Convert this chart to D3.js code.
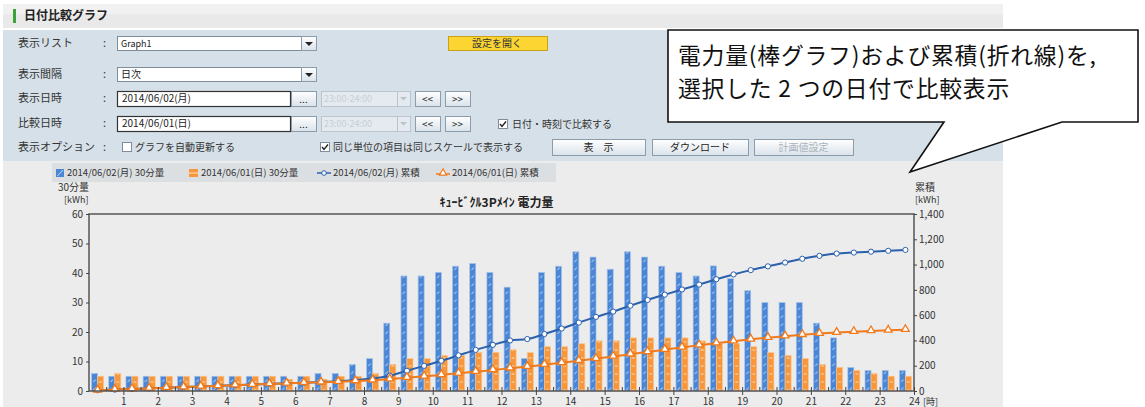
<!DOCTYPE html>
<html>
<head>
<meta charset="utf-8">
<script src="https://cdn.jsdelivr.net/npm/d3@7"></script>
<style>
body { margin: 0; background: #fff; }
svg text { font-family: "Noto Sans CJK JP", "Noto Sans", sans-serif; }
</style>
</head>
<body>
<svg id="chart" width="1145" height="407"></svg>
<script>
// half-hour slots (categories)
var slots = ["0:00","0:30","1:00","1:30","2:00","2:30","3:00","3:30","4:00","4:30","5:00","5:30",
    "6:00","6:30","7:00","7:30","8:00","8:30","9:00","9:30","10:00","10:30","11:00","11:30",
    "12:00","12:30","13:00","13:30","14:00","14:30","15:00","15:30","16:00","16:30","17:00","17:30",
    "18:00","18:30","19:00","19:30","20:00","20:30","21:00","21:30","22:00","22:30","23:00","23:30"];
var hourTicks = [1,2,3,4,5,6,7,8,9,10,11,12,13,14,15,16,17,18,19,20,21,22,23,24];
var leftTicks = [0,10,20,30,40,50,60];
var rightTicks = [0,200,400,600,800,1000,1200,1400];

var seriesNames = ["2014/06/02(月) 30分量", "2014/06/01(日) 30分量", "2014/06/02(月) 累積", "2014/06/01(日) 累積"];

// 30 minute amounts [kWh]
var mon30 = [6,5,5,5,5,5,5,5,5,5,5,5,5,6,6,9,11,23,39,39,40.2,42.3,43.2,40.2,
    35.2,11,40.2,42.3,47.2,45.4,41.3,47.2,45.4,42.3,40.2,39,42.4,38.1,34,30,30,30,23,18,8,7,7,7];
var sun30 = [5,6,5,5,5,5,5,5,5,5,5,4,5,4,5,5,6,9,11,11,12,12,13,13,
    14,13,15,15,16,17,17,18,18,18,18,17,16,16,15,13,12,11,9,8,7,6,5,5];

// cumulative [kWh]
var monTotal = [6,11,16,21,26,31,36,41,46,51,56,61,66,72,78,87,98,121,160,199,239,282,325,365,
    400,411,451,494,541,586,628,675,720,762,803,842,884,922,956,986,1016,1046,1069,1087,1095,1102,1109,1116];
var sunTotal = [5,11,16,21,26,31,36,41,46,51,56,60,65,69,74,79,85,94,105,116,128,140,153,166,
    180,193,208,223,239,256,273,291,309,327,345,362,378,394,409,422,434,445,454,462,469,475,480,485];

var svg = d3.select("#chart");

var blue = "#4a86d6", blueLine = "#2b60ac", orange = "#f7963a", orangeLine = "#f07a1c";

var defs = svg.append("defs");
var plotL = 89, plotR = 914, plotT = 214, plotB = 391;
var step = (plotR - plotL) / slots.length;

var pb = defs.append("pattern").attr("id", "hatchBlue").attr("patternUnits", "userSpaceOnUse")
    .attr("x", plotL).attr("y", 0).attr("width", step).attr("height", 8);
pb.append("rect").attr("width", step).attr("height", 8).attr("fill", blue);
pb.append("line").attr("x1", 4.4).attr("y1", 6).attr("x2", 6.6).attr("y2", 3.5)
    .attr("stroke", "#b8d0f0").attr("stroke-width", 1);

var po = defs.append("pattern").attr("id", "hatchOrange").attr("patternUnits", "userSpaceOnUse")
    .attr("x", plotL).attr("y", 2).attr("width", step).attr("height", 8);
po.append("rect").attr("width", step).attr("height", 8).attr("fill", orange);
po.append("line").attr("x1", 10.2).attr("y1", 4).attr("x2", 13).attr("y2", 4)
    .attr("stroke", "#fde2c4").attr("stroke-width", 1);

// ---------- page frame ----------
svg.append("rect").attr("x", 3).attr("y", 4).attr("width", 1000).attr("height", 24).attr("fill", "#e9e9e9");
svg.append("rect").attr("x", 3).attr("y", 4).attr("width", 1000).attr("height", 10).attr("fill", "#f1f1f1");
svg.append("rect").attr("x", 13).attr("y", 9).attr("width", 3).attr("height", 14).attr("fill", "#3aa23a");
svg.append("text").attr("x", 24).attr("y", 20).attr("font-size", 12).attr("font-weight", "bold")
    .attr("fill", "#222").text("日付比較グラフ");

svg.append("rect").attr("x", 3).attr("y", 30).attr("width", 1000).attr("height", 131).attr("fill", "#d6e0e8");
svg.append("rect").attr("x", 3).attr("y", 161).attr("width", 1000).attr("height", 246).attr("fill", "#ececec");

function box(x, y, w, h, fill, stroke, sw) {
    return svg.append("rect").attr("x", x + 0.5).attr("y", y + 0.5).attr("width", w).attr("height", h)
        .attr("fill", fill).attr("stroke", stroke).attr("stroke-width", sw || 1);
}
function label(x, y, t, size, color, anchor) {
    return svg.append("text").attr("x", x).attr("y", y).attr("font-size", size || 11)
        .attr("fill", color || "#333").attr("text-anchor", anchor || "start").text(t);
}
function button(x, y, w, h, t, color) {
    box(x, y, w, h, "url(#btnGrad)", "#8c9cab");
    label(x + w / 2, y + h / 2 + 4, t, 10, color || "#222", "middle");
}
var bg = defs.append("linearGradient").attr("id", "btnGrad").attr("x1", 0).attr("y1", 0).attr("x2", 0).attr("y2", 1);
bg.append("stop").attr("offset", 0).attr("stop-color", "#ffffff");
bg.append("stop").attr("offset", 1).attr("stop-color", "#d9e2ea");

function dropBtn(x, y, h, c) {
    box(x, y, 15, h, "url(#btnGrad)", "#8c9cab");
    svg.append("path").attr("d", "M" + (x + 4) + "," + (y + 6) + "h8l-4,4z").attr("fill", c || "#222");
}

var rows = [43, 74, 98, 123, 147];
var rowLabels = ["表示リスト", "表示間隔", "表示日時", "比較日時", "表示オプション"];
rowLabels.forEach(function (t, i) {
    label(18, rows[i] + 4, t, 11, "#333");
    label(103, rows[i] + 4, ":", 11, "#333");
});

// row 1
box(117, 36, 184, 14, "#fff", "#7d8d9c");
label(121, 47, "Graph1", 9, "#222");
dropBtn(301, 36, 14);
box(448, 36, 99, 14, "#fcd533", "#c9a21a");
label(497, 47, "設定を開く", 10, "#333", "middle");
// row 2
box(117, 67, 184, 14, "#fff", "#7d8d9c");
label(121, 78, "日次", 10, "#222");
dropBtn(301, 67, 14);
// row 3 and 4
[[91, "2014/06/02(月)"], [116, "2014/06/01(日)"]].forEach(function (r) {
    var yy = r[0];
    box(117, yy, 173, 15, "#fff", "#333", 1.2);
    label(122, yy + 11, r[1], 10, "#222");
    button(291, yy, 25, 15, "...");
    box(321, yy, 76, 15, "#e4eaef", "#b9c4cd");
    label(324, yy + 11, "23:00-24:00", 9, "#c7cfd7");
    box(397, yy, 13, 15, "#e4eaef", "#b9c4cd");
    svg.append("path").attr("d", "M400," + (yy + 6) + "h7l-3.5,3.5z").attr("fill", "#b9c4cd");
    button(415, yy, 25, 15, "<<");
    button(445, yy, 25, 15, ">>");
});
function checkbox(x, y, checked) {
    box(x, y, 9, 9, "#fff", "#7d8d9c");
    if (checked) svg.append("path").attr("d", "M" + (x + 2) + "," + (y + 5) + "l2,2.5l4,-5")
        .attr("fill", "none").attr("stroke", "#222").attr("stroke-width", 1.4);
}
checkbox(498, 119, true);
label(512, 128, "日付・時刻で比較する", 10, "#333");
// row 5
checkbox(122, 142, false);
label(135, 151, "グラフを自動更新する", 10, "#333");
checkbox(320, 142, true);
label(333, 151, "同じ単位の項目は同じスケールで表示する", 10, "#333");
button(552, 139, 93, 16, "表　示");
button(652, 139, 96, 16, "ダウンロード");
button(754, 139, 99, 16, "計画値設定", "#aab4bd");

// ---------- legend ----------
svg.append("rect").attr("x", 52).attr("y", 163).attr("width", 504).attr("height", 19).attr("fill", "#dcdfe2");
svg.append("rect").attr("x", 56).attr("y", 169).attr("width", 8).attr("height", 8).attr("fill", blue);
svg.append("line").attr("x1", 57.5).attr("y1", 176).attr("x2", 63).attr("y2", 170).attr("stroke", "#c8dcf4");
svg.append("rect").attr("x", 189).attr("y", 169).attr("width", 9).attr("height", 8).attr("fill", orange);
svg.append("line").attr("x1", 189).attr("y1", 173).attr("x2", 198).attr("y2", 173).attr("stroke", "#fde2c4");
svg.append("line").attr("x1", 317).attr("y1", 173).attr("x2", 331).attr("y2", 173).attr("stroke", blueLine).attr("stroke-width", 1.5);
svg.append("circle").attr("cx", 324).attr("cy", 173).attr("r", 2.3).attr("fill", "#fff").attr("stroke", blueLine);
svg.append("line").attr("x1", 436).attr("y1", 174).attr("x2", 450).attr("y2", 174).attr("stroke", orangeLine).attr("stroke-width", 1.5);
svg.append("path").attr("d", d3.symbol(d3.symbolTriangle, 22)()).attr("transform", "translate(443,173)")
    .attr("fill", "#fff").attr("stroke", orangeLine).attr("stroke-width", 1.2);
var legendTextX = [67, 201, 333, 452];
seriesNames.forEach(function (n, i) {
    label(legendTextX[i], 176, n, 9.5, "#333");
});

// ---------- chart ----------
var x = d3.scaleBand().domain(slots).range([plotL, plotR]).paddingInner(0.3).paddingOuter(0.15);
var xs = d3.scaleBand().domain([0, 1]).range([0, x.bandwidth()]);
var xh = d3.scaleLinear().domain([0, 24]).range([plotL, plotR]);
var y = d3.scaleLinear().domain([0, 60]).range([plotB, plotT]);
var y2 = d3.scaleLinear().domain([0, 1400]).range([plotB, plotT]);

label(58, 191, "30分量", 10, "#333");
label(64, 203, "[kWh]", 9, "#333");
label(915, 191, "累積", 10, "#333");
label(915, 203, "[kWh]", 9, "#333");
svg.append("text").attr("x", (plotL + plotR) / 2 - 5).attr("y", 207).attr("text-anchor", "middle")
    .attr("font-size", 12).attr("font-weight", "bold").attr("fill", "#222").text("ｷｭｰﾋﾞｸﾙ3Pﾒｲﾝ  電力量");

svg.selectAll(".barMon").data(mon30).enter().append("rect")
    .attr("x", function (d, i) { return x(slots[i]) + xs(0); })
    .attr("y", function (d) { return y(d); })
    .attr("width", xs.bandwidth())
    .attr("height", function (d) { return plotB - y(d); })
    .attr("fill", "url(#hatchBlue)").attr("stroke", "#a9c3e8").attr("stroke-width", 0.7);

svg.selectAll(".barSun").data(sun30).enter().append("rect")
    .attr("x", function (d, i) { return x(slots[i]) + xs(1); })
    .attr("y", function (d) { return y(d); })
    .attr("width", xs.bandwidth())
    .attr("height", function (d) { return plotB - y(d); })
    .attr("fill", "url(#hatchOrange)").attr("stroke", "#fbc48c").attr("stroke-width", 0.7);

var line = d3.line()
    .x(function (d, i) { return x(slots[i]) + x.bandwidth() / 2; })
    .y(function (d) { return y2(d); })
    .curve(d3.curveMonotoneX);

svg.append("path").datum(monTotal).attr("d", line).attr("fill", "none")
    .attr("stroke", blueLine).attr("stroke-width", 2);
svg.selectAll(".dotMon").data(monTotal).enter().append("circle")
    .attr("cx", function (d, i) { return x(slots[i]) + x.bandwidth() / 2; })
    .attr("cy", function (d) { return y2(d); })
    .attr("r", 2.6).attr("fill", "#fff").attr("stroke", blueLine).attr("stroke-width", 1);

svg.append("path").datum(sunTotal).attr("d", line).attr("fill", "none")
    .attr("stroke", orangeLine).attr("stroke-width", 2);
svg.selectAll(".triSun").data(sunTotal).enter().append("path")
    .attr("d", d3.symbol(d3.symbolTriangle, 26)())
    .attr("transform", function (d, i) {
        return "translate(" + (x(slots[i]) + x.bandwidth() / 2) + "," + (y2(d) - 0.5) + ")";
    })
    .attr("fill", "#fff").attr("stroke", orangeLine).attr("stroke-width", 1.3);

// frame and axes
svg.append("rect").attr("x", plotL).attr("y", plotT).attr("width", plotR - plotL).attr("height", plotB - plotT)
    .attr("fill", "none").attr("stroke", "#555").attr("stroke-width", 1.5);

var halfTicks = d3.range(0.5, 24.01, 0.5);
svg.append("g").attr("transform", "translate(0," + plotB + ")")
    .call(d3.axisTop(xh).tickValues(halfTicks).tickSize(4).tickFormat(""))
    .call(function (g) { g.select(".domain").remove(); g.selectAll("line").attr("stroke", "#444"); });

var xAxis = svg.append("g").attr("transform", "translate(0," + plotB + ")")
    .call(d3.axisBottom(xh).tickValues(hourTicks).tickSize(4).tickPadding(3));
xAxis.select(".domain").remove();
xAxis.selectAll("line").attr("stroke", "#444");
xAxis.selectAll("text").attr("font-size", 10).attr("fill", "#333").attr("font-family", "Liberation Sans, sans-serif");
label(923, 405, "[時]", 9, "#333");

var yAxis = svg.append("g").attr("transform", "translate(" + plotL + ",0)")
    .call(d3.axisLeft(y).tickValues(leftTicks).tickSize(3).tickPadding(3));
yAxis.select(".domain").remove();
yAxis.selectAll("line").attr("stroke", "#444");
yAxis.selectAll("text").attr("font-size", 10).attr("fill", "#333").attr("font-family", "Liberation Sans, sans-serif");

var y2Axis = svg.append("g").attr("transform", "translate(" + plotR + ",0)")
    .call(d3.axisRight(y2).tickValues(rightTicks).tickSize(3).tickPadding(2).tickFormat(d3.format(",")));
y2Axis.select(".domain").remove();
y2Axis.selectAll("line").attr("stroke", "#444");
y2Axis.selectAll("text").attr("font-size", 10).attr("fill", "#333").attr("font-family", "Liberation Sans, sans-serif");

// ---------- callout ----------
svg.append("path")
    .attr("d", "M668,30H1138V122H1062L910,172L944,122H668Z")
    .attr("fill", "#fff").attr("stroke", "#111").attr("stroke-width", 1.6).attr("stroke-linejoin", "miter");
label(678, 64, "電力量(棒グラフ)および累積(折れ線)を,", 22.8, "#111").attr("letter-spacing", 0.8);
label(678, 97, "選択した 2 つの日付で比較表示", 22.8, "#111").attr("letter-spacing", 0.8);
</script>
</body>
</html>
